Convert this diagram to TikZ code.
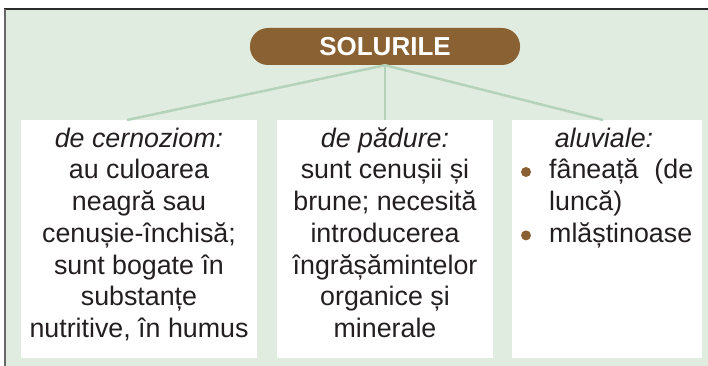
\documentclass[tikz,border=0pt]{standalone}
\usepackage{fontspec}
\setmainfont{Liberation Sans}
\definecolor{bgc}{HTML}{E1ECE1}
\definecolor{linec}{HTML}{B5D3BA}
\definecolor{pillc}{HTML}{8A6132}
\definecolor{txtc}{HTML}{231F20}
\definecolor{framec}{HTML}{2A2A2A}
\definecolor{framel}{HTML}{666666}
\tikzset{
  pill/.style={fill=pillc, text=white, font={\fontsize{26}{30}\selectfont\bfseries},
    minimum width=270pt, minimum height=37pt, rounded corners=18pt, inner sep=0pt},
  boxw/.style={fill=white, draw=none, inner sep=0pt},
  conn/.style={draw=linec, line width=2.5pt},
  txt/.style={text=txtc, font={\fontsize{26.8}{31.7}\selectfont}, align=center, inner sep=0pt},
  bul/.style={fill=pillc},
}
\begin{document}
\begin{tikzpicture}[x=1pt,y=-1pt]
\useasboundingbox (0,0) rectangle (708,366);
\fill[bgc] (5,9) rectangle (708,366);
\draw[framec, line width=1.8pt] (4.1,9) -- (708,9);
\draw[framel, line width=1.8pt] (5,9) -- (5,366);
\node[pill] (T) at (385,46.5) {SOLURILE};
\node[boxw, minimum width=236pt, minimum height=238pt] (L) at (139,239) {};
\node[boxw, minimum width=216pt, minimum height=238pt] (M) at (385,239) {};
\node[boxw, minimum width=190pt, minimum height=238pt] (R) at (607,239) {};
\coordinate (La) at (127,120);
\coordinate (Ra) at (603,120);
\draw[conn] (T.south) -- (La);
\draw[conn] (T.south) -- (M.north);
\draw[conn] (T.south) -- (Ra);
\node[txt, anchor=north] (Lt) at (139,125) {\rule{0pt}{22pt}\textit{de cernoziom:}\\au culoarea\\neagră sau\\cenușie-închisă;\\sunt bogate în\\substanțe\\nutritive, în humus};
\node[txt, anchor=north] (Mt) at (385,125) {\rule{0pt}{22pt}\textit{de pădure:}\\sunt cenușii și\\brune; necesită\\introducerea\\îngrășămintelor\\organice și\\minerale};
\node[txt, anchor=base] (Rt) at (604,147) {\textit{aluviale:}};
\fill[bul] (526,172) circle (5);
\fill[bul] (526,235.4) circle (5);
\node[txt, anchor=base west] (R1) at (549,178.7) {\makebox[144pt][s]{fâneață\hfill(de}};
\node[txt, anchor=base west] (R2) at (549,210.4) {luncă)};
\node[txt, anchor=base west] (R3) at (549,242.1) {mlăștinoase};
\end{tikzpicture}
\end{document}
